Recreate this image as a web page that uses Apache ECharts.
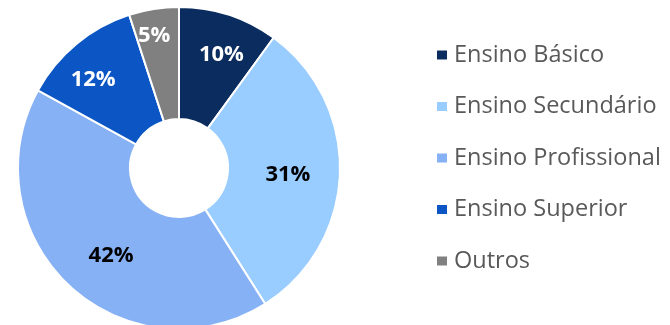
<!DOCTYPE html>
<html>
<head>
<meta charset="utf-8">
<script src="https://cdn.jsdelivr.net/npm/echarts@6/dist/echarts.min.js"></script>
<style>
  html, body { margin: 0; padding: 0; background: #ffffff; }
  #chart { width: 670px; height: 325px; }
</style>
</head>
<body>
<div id="chart"></div>
<script>
// Distribuição por nível de ensino
const categories = ['Ensino Básico', 'Ensino Secundário', 'Ensino Profissional', 'Ensino Superior', 'Outros'];
const shares = [10, 31, 42, 12, 5];

const sliceColors = ['#0b2c5f', '#99ccff', '#87b1f5', '#0b56c4', '#808080'];
const labelColors = ['#ffffff', '#000000', '#000000', '#ffffff', '#ffffff'];
// nudge (px) of each slice label away from the ring's mid-radius spot
const labelShift = [[9, -11], [1, 3], [6, 9], [-17, -5], [-8, -26]];

const cx = 179, cy = 168;

const chart = echarts.init(document.getElementById('chart'), null, { renderer: 'canvas' });

chart.setOption({
  animation: false,
  color: sliceColors,
  legend: {
    orient: 'vertical',
    left: 430,
    top: 38,
    itemWidth: 12,
    itemHeight: 11,
    itemGap: 27.5,
    icon: 'rect',
    textStyle: {
      fontFamily: 'Open Sans',
      fontSize: 23.5,
      color: '#595959',
      lineHeight: 24,
      padding: [0, 0, 0, 1]
    },
    data: categories
  },
  series: [{
    type: 'pie',
    center: [cx, cy],
    radius: [49, 161],
    startAngle: 90,
    clockwise: true,
    avoidLabelOverlap: false,
    itemStyle: { borderColor: '#ffffff', borderWidth: 2 },
    label: {
      show: true,
      position: 'inside',
      formatter: '{c}%',
      fontFamily: 'Open Sans',
      fontWeight: 'bold',
      fontSize: 22
    },
    labelLine: { show: false },
    labelLayout: function (params) {
      const s = labelShift[params.dataIndex];
      return { dx: s[0], dy: s[1] };
    },
    data: categories.map((name, i) => ({
      name: name,
      value: shares[i],
      label: { color: labelColors[i] }
    }))
  }]
});
</script>
</body>
</html>
